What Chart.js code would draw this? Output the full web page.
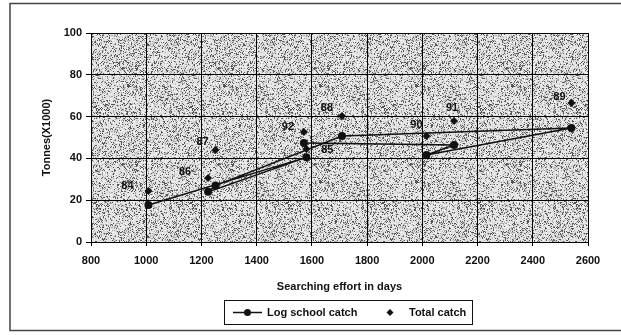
<!DOCTYPE html>
<html>
<head>
<meta charset="utf-8">
<script src="https://cdn.jsdelivr.net/npm/chart.js@4/dist/chart.umd.min.js"></script>
<style>
  html, body { margin: 0; padding: 0; background: #fff; }
  #wrap { width: 621px; height: 335px; }
</style>
</head>
<body>
<div id="wrap"><canvas id="c" width="621" height="335"></canvas></div>
<script>
// Fishing seasons 1984-1992
const years = ['84', '85', '86', '87', '88', '89', '90', '91', '92'];
// Searching effort (days) per season
const effortDays = [1008, 1580, 1224, 1251, 1709, 2540, 2015, 2115, 1571];
// Catch in tonnes (x1000)
const logSchoolCatch = [17.7, 40.5, 24.0, 27.0, 50.7, 54.5, 41.6, 46.4, 47.4];
const totalCatch = [24.4, 44.5, 30.6, 44.0, 60.3, 66.5, 50.7, 57.9, 52.6];
// Axis ticks
const xTicks = [800, 1000, 1200, 1400, 1600, 1800, 2000, 2200, 2400, 2600];
const yTicks = [0, 20, 40, 60, 80, 100];

// Year label placement relative to each total-catch marker (pixels)
const labelShift = [[-21, -5], [21, 1], [-23, -6], [-13, -8], [-15, -8], [-12, -6], [-10, -11], [-2, -13], [-16, -5]];

const FONT = 'Liberation Sans, Arial, sans-serif';

// Stippled grey fill for the plotting area
function makeStipple() {
  const c = document.createElement('canvas');
  c.width = 96; c.height = 96;
  const g = c.getContext('2d');
  g.fillStyle = '#e2e2e2';
  g.fillRect(0, 0, 96, 96);
  let s = 12345;
  const next = () => { s = (s * 1103515245 + 12345) & 0x7fffffff; return s / 0x7fffffff; };
  for (let y = 0; y < 96; y++) {
    for (let x = 0; x < 96; x++) {
      const r = next();
      if (r < 0.16) { g.fillStyle = '#555'; g.fillRect(x, y, 1, 1); }
      else if (r < 0.30) { g.fillStyle = '#a8a8a8'; g.fillRect(x, y, 1, 1); }
      else if (r > 0.88) { g.fillStyle = '#f6f6f6'; g.fillRect(x, y, 1, 1); }
    }
  }
  return c;
}
const stipple = makeStipple();

const plotBackground = {
  id: 'plotBackground',
  beforeDraw(chart) {
    const { ctx, chartArea: a } = chart;
    ctx.save();
    // outer frame
    ctx.strokeStyle = '#444';
    ctx.lineWidth = 1.5;
    ctx.strokeRect(10, 3.5, 640, 327);
    ctx.fillStyle = ctx.createPattern(stipple, 'repeat');
    ctx.fillRect(a.left, a.top, a.right - a.left, a.bottom - a.top);
    ctx.restore();
  }
};

const yearLabels = {
  id: 'yearLabels',
  afterDatasetsDraw(chart) {
    const { ctx } = chart;
    const xs = chart.scales.x, ys = chart.scales.y;
    ctx.save();
    ctx.font = 'bold 11px ' + FONT;
    ctx.fillStyle = '#111';
    ctx.textAlign = 'center';
    ctx.textBaseline = 'middle';
    years.forEach((yr, i) => {
      const px = xs.getPixelForValue(effortDays[i]) + labelShift[i][0];
      const py = ys.getPixelForValue(totalCatch[i]) + labelShift[i][1];
      ctx.fillText(yr, px, py);
    });
    ctx.restore();
  }
};

const boxedLegend = {
  id: 'boxedLegend',
  afterDraw(chart) {
    const { ctx } = chart;
    const names = chart.data.datasets.map(d => d.label);
    ctx.save();
    ctx.strokeStyle = '#111';
    ctx.lineWidth = 1;
    ctx.strokeRect(224.5, 300.5, 248, 24);
    const cy = 312.5;
    // line + circle sample
    ctx.beginPath();
    ctx.lineWidth = 1.5;
    ctx.moveTo(233, cy); ctx.lineTo(262, cy); ctx.stroke();
    ctx.fillStyle = '#111';
    ctx.beginPath(); ctx.arc(247.5, cy, 3.5, 0, Math.PI * 2); ctx.fill();
    // diamond sample
    ctx.beginPath();
    ctx.moveTo(390, cy - 3.5); ctx.lineTo(393.5, cy); ctx.lineTo(390, cy + 3.5); ctx.lineTo(386.5, cy);
    ctx.closePath(); ctx.fill();
    ctx.font = 'bold 11px ' + FONT;
    ctx.textBaseline = 'middle';
    ctx.textAlign = 'left';
    ctx.fillText(names[0], 267, cy);
    ctx.fillText(names[1], 409, cy);
    ctx.restore();
  }
};

new Chart(document.getElementById('c'), {
  type: 'scatter',
  data: {
    datasets: [
      {
        label: 'Log school catch',
        data: effortDays.map((x, i) => ({ x: x, y: logSchoolCatch[i] })),
        showLine: true,
        borderColor: '#111',
        borderWidth: 1.5,
        backgroundColor: '#111',
        pointStyle: 'circle',
        pointRadius: 4,
        pointBorderWidth: 0,
        tension: 0
      },
      {
        label: 'Total catch',
        data: effortDays.map((x, i) => ({ x: x, y: totalCatch[i] })),
        showLine: false,
        borderColor: '#111',
        backgroundColor: '#111',
        pointStyle: 'rectRot',
        pointRadius: 4,
        pointBorderWidth: 0
      }
    ]
  },
  options: {
    responsive: false,
    animation: false,
    devicePixelRatio: 1,
    layout: { padding: { left: 10, top: 33, right: 33, bottom: 37 } },
    plugins: { legend: { display: false }, tooltip: { enabled: false } },
    scales: {
      x: {
        type: 'linear',
        min: 800, max: 2600,
        afterBuildTicks: s => { s.ticks = xTicks.map(v => ({ value: v })); },
        afterFit: s => { s.height = 56; },
        grid: { color: '#000', lineWidth: 1, tickLength: 4, drawTicks: true },
        border: { color: '#000', width: 1 },
        ticks: { color: '#111', font: { family: FONT, size: 11, weight: 'bold' }, padding: 8, maxRotation: 0, callback: v => String(v) },
        title: { display: true, text: 'Searching effort in days', color: '#111', font: { family: FONT, size: 11, weight: 'bold' }, padding: { top: 0, bottom: 4 } }
      },
      y: {
        min: 0, max: 100,
        afterBuildTicks: s => { s.ticks = yTicks.map(v => ({ value: v })); },
        afterFit: s => { s.width = 81; },
        grid: { color: '#000', lineWidth: 1, tickLength: 5 },
        border: { color: '#000', width: 1 },
        ticks: { color: '#111', font: { family: FONT, size: 11, weight: 'bold' }, padding: 4, callback: v => String(v) },
        title: { display: true, text: 'Tonnes(X1000)', color: '#111', font: { family: FONT, size: 11, weight: 'bold' }, padding: { top: 30, bottom: 0 } }
      }
    }
  },
  plugins: [plotBackground, yearLabels, boxedLegend]
});
</script>
</body>
</html>
